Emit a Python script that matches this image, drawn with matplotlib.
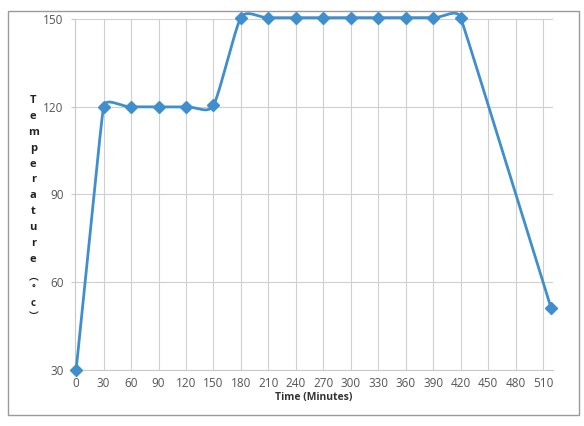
import numpy as np
import matplotlib.pyplot as plt
from matplotlib.patches import Rectangle

# data
time_min = [0, 30, 60, 90, 120, 150, 180, 210, 240, 270, 300, 330, 360, 390, 420, 519]
temp_c = [30, 120, 120, 120, 120, 120.5, 150.5, 150.5, 150.5, 150.5, 150.5, 150.5, 150.5, 150.5, 150.5, 51]
x_ticks = list(range(0, 511, 30))
y_ticks = [30, 60, 90, 120, 150]

line_color = "#3f8fcf"


def smooth(xs, ys, sx=0.917, sy=2.925, k=0.4, n=40):
    # bezier through the points, control arms limited by the shorter
    # neighbouring segment (roughly what Excel's smoothed line does)
    p = np.column_stack([np.asarray(xs, float) * sx, np.asarray(ys, float) * sy])
    m = len(p)
    tang = np.zeros_like(p)
    arm = np.zeros(m)
    for i in range(m):
        a = p[max(i - 1, 0)]
        b = p[min(i + 1, m - 1)]
        d = b - a
        tang[i] = d / np.linalg.norm(d)
        segs = []
        if i > 0:
            segs.append(np.linalg.norm(p[i] - p[i - 1]))
        if i < m - 1:
            segs.append(np.linalg.norm(p[i + 1] - p[i]))
        arm[i] = min(segs) * k
    t = np.linspace(0, 1, n)[:, None]
    pts = []
    for i in range(m - 1):
        p0 = p[i]
        p3 = p[i + 1]
        c1 = p0 + tang[i] * arm[i]
        c2 = p3 - tang[i + 1] * arm[i + 1]
        seg = ((1 - t) ** 3) * p0 + 3 * ((1 - t) ** 2) * t * c1 + 3 * (1 - t) * t**2 * c2 + t**3 * p3
        pts.append(seg)
    pts = np.vstack(pts)
    return pts[:, 0] / sx, pts[:, 1] / sy


plt.rcParams["font.family"] = ["Open Sans", "DejaVu Sans"]

fig = plt.figure(figsize=(5.84, 4.26), dpi=100)
fig.patches.append(Rectangle((0.014, 0.025), 0.978, 0.95, transform=fig.transFigure,
                             fill=False, edgecolor="#9a9a9a", linewidth=1.0))

ax = fig.add_axes([0.128, 0.132, 0.819, 0.823])
cx, cy = smooth(time_min, temp_c)
ax.plot(cx, cy, color=line_color, linewidth=2, clip_on=False, zorder=3)
ax.plot(time_min, temp_c, linestyle="none", marker="D", markersize=6,
        color=line_color, clip_on=False, zorder=4)

ax.set_xlim(-1.5, 521)
ax.set_ylim(30, 150)
ax.set_xticks(x_ticks)
ax.set_yticks(y_ticks)
ax.tick_params(axis="both", labelsize=8.5, colors="#555555", length=0, pad=5)
ax.tick_params(axis="y", length=3, color="#c8c8c8", width=0.8)
ax.grid(True, color="#cfcfcf", linewidth=0.8)
ax.xaxis.get_gridlines()[0].set_visible(False)
ax.set_axisbelow(True)
for side in ("top", "right"):
    ax.spines[side].set_visible(False)
for side in ("left", "bottom"):
    ax.spines[side].set_color("#c8c8c8")
    ax.spines[side].set_linewidth(0.8)

ax.set_xlabel("Time (Minutes)", fontsize=7.5, fontweight="bold", color="#333333", labelpad=2)

# stacked vertical axis title
label_chars = list("Temperature")
y0 = 0.765
for i, ch in enumerate(label_chars):
    fig.text(0.057, y0 - i * 0.0375, ch, ha="center", va="center",
             fontsize=8, fontweight="bold", color="#222222")
extra = ["\ufe35", "\u00b0", "c", "\ufe36"]
ey = [0.352, 0.322, 0.289, 0.258]
for ch, yy in zip(extra, ey):
    fig.text(0.057, yy, ch, ha="center", va="center", fontsize=7, fontweight="bold",
             color="#222222", family=["Noto Sans CJK SC", "DejaVu Sans"])

fig.savefig("out.png", dpi=100)
